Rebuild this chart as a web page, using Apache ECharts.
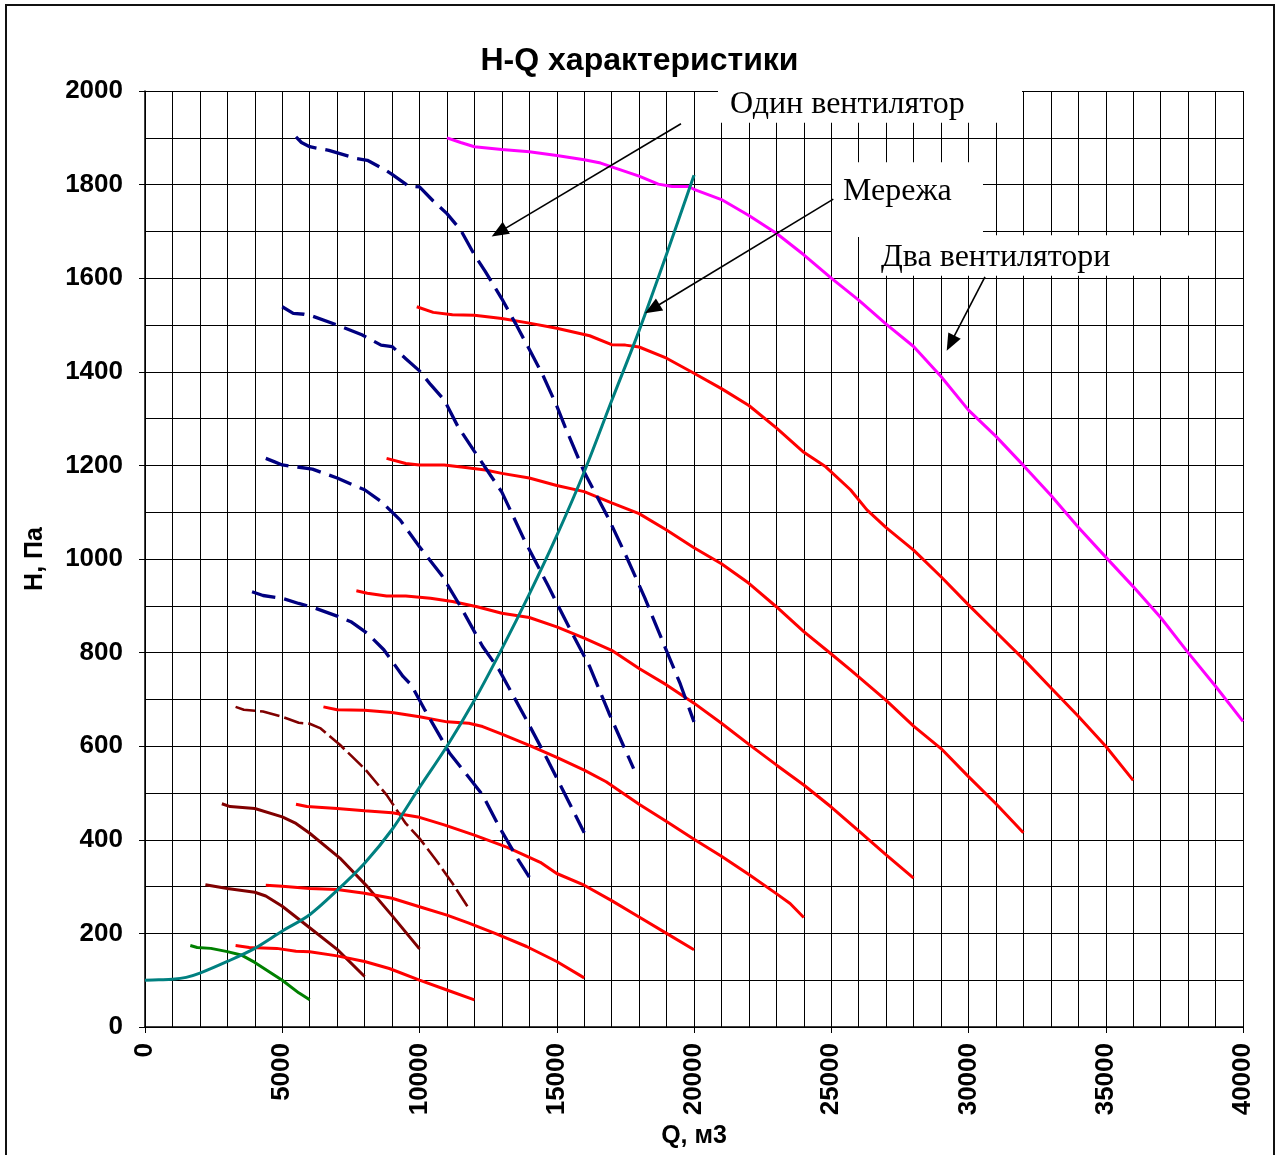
<!DOCTYPE html>
<html>
<head>
<meta charset="utf-8">
<script src="https://cdn.jsdelivr.net/npm/echarts@6/dist/echarts.min.js"></script>
<style>
html,body{margin:0;padding:0;background:#fff;}
#chart{width:1279px;height:1155px;}
</style>
</head>
<body>
<div id="chart"></div>
<script>
// ---- Data (Q, м3 ; H, Па) ----
const network = [[0,100],[500,101],[1000,102],[1500,106],[2000,115],[3000,140],[4000,168],[5000,205],[6000,240],[7000,292],[8000,350],[9000,422],[10000,512],[11000,600],[12000,698],[13000,808],[14000,925],[15000,1050],[16000,1186],[17000,1338],[18000,1488],[19000,1651],[20000,1820]];

const twoFans = [[11000,1900],[11500,1890],[12000,1881],[13000,1875],[14000,1870],[15000,1862],[16000,1853],[16600,1846],[17000,1838],[18000,1818],[18700,1801],[19200,1796],[19800,1796],[20000,1790],[21000,1768],[22000,1734],[23000,1696],[24000,1650],[25000,1600],[26000,1553],[27000,1502],[28000,1454],[29000,1390],[30000,1318],[31000,1262],[32000,1200],[33000,1136],[34000,1068],[35000,1004],[36000,941],[37000,875],[38000,800],[39000,728],[40000,653]];

const oneFanA = [[5500,1902],[5700,1890],[6000,1881],[6700,1873],[7700,1856],[8100,1852],[8700,1833],[9000,1822],[9600,1797],[10000,1795],[10500,1765],[11000,1738],[11500,1703],[12000,1650],[12400,1614],[13000,1556],[13500,1503],[14000,1448],[14500,1392],[15000,1327],[15300,1283],[16000,1186],[16900,1085],[17500,1010],[18200,918],[18900,818],[19500,733],[20000,652]];
const oneFanB = [[5000,1539],[5400,1525],[5800,1523],[6100,1519],[7000,1500],[7900,1479],[8600,1457],[9000,1454],[9500,1428],[10000,1402],[10400,1373],[10900,1340],[11400,1283],[12000,1230],[13000,1143],[13800,1043],[14700,941],[15500,848],[16200,770],[16900,671],[17800,552]];
const oneFanC = [[4400,1215],[4700,1208],[5000,1201],[5500,1197],[6100,1192],[7000,1173],[7700,1155],[8000,1148],[8600,1123],[9300,1083],[10000,1026],[10800,966],[11500,898],[12300,813],[12900,763],[13900,656],[14700,567],[15500,474],[16000,415]];
const oneFanD = [[3900,930],[4300,922],[5000,916],[5600,905],[6100,897],[7000,878],[7500,866],[8100,841],[8700,806],[9400,749],[9700,731],[10200,677],[11100,585],[12300,496],[12900,428],[13600,357],[14000,320]];

const redA = [[9900,1539],[10500,1527],[11200,1522],[12000,1521],[13000,1514],[14000,1504],[15000,1493],[16200,1477],[17000,1458],[17500,1457],[18000,1453],[19000,1429],[20000,1397],[21000,1364],[22000,1328],[23000,1280],[24000,1228],[24800,1197],[25700,1148],[26300,1105],[27000,1067],[28000,1019],[29000,962],[30000,902],[31000,844],[32000,786],[33000,725],[34000,664],[35000,600],[36000,527]];
const redB = [[8800,1215],[9500,1204],[10000,1201],[10900,1201],[11600,1196],[12400,1190],[13000,1183],[14000,1173],[15000,1157],[16000,1144],[17000,1120],[18000,1097],[19000,1062],[20000,1024],[21000,990],[22000,948],[23000,898],[24000,845],[25000,797],[25700,763],[27000,698],[28000,643],[29000,595],[30000,535],[31000,477],[32000,415]];
const redC = [[7700,932],[8100,927],[8800,921],[9500,921],[10400,916],[11200,909],[12100,898],[13000,884],[14000,875],[15000,855],[16000,831],[17000,805],[18000,766],[19000,731],[20000,692],[21000,649],[22000,604],[23000,560],[24000,517],[25000,470],[26000,419],[27000,368],[28000,318]];
const redD = [[6500,684],[7000,678],[8000,677],[9000,672],[10000,663],[11000,652],[11800,649],[12300,642],[13000,626],[14000,602],[15000,576],[16000,549],[16800,524],[18000,476],[19000,439],[20000,401],[21000,365],[22000,326],[23000,285],[23500,264],[24000,234]];
const redE = [[5500,476],[5900,471],[7000,467],[8000,462],[9000,458],[10000,448],[10900,432],[12000,410],[13200,384],[14400,352],[15000,328],[16000,303],[17000,270],[18000,235],[19000,200],[20000,165]];
const redF = [[4400,303],[5000,301],[6000,296],[7000,294],[8000,286],[9000,275],[10000,257],[11000,239],[11800,222],[12800,199],[13900,172],[15000,140],[16000,105]];
const redG = [[3300,174],[3800,170],[4800,168],[5500,162],[6000,161],[7000,152],[8000,140],[8900,125],[10000,100],[11000,79],[12000,58]];

const brownA = [[3300,684],[3600,678],[4300,674],[5000,663],[5600,650],[6000,648],[6400,638],[7100,603],[8000,552],[8800,496],[9500,435],[10000,403],[10600,357],[11200,307],[11800,253]];
const brownB = [[2800,477],[3100,471],[4000,467],[5000,449],[5500,435],[6000,414],[7100,361],[8100,300],[9000,238],[10000,167]];
const brownC = [[2200,304],[3000,296],[4000,288],[4400,280],[5000,258],[6000,212],[7000,166],[8000,108]];

const greenA = [[1650,174],[1900,170],[2400,168],[3000,161],[3500,154],[4000,138],[5000,100],[5600,73],[6000,58]];

// annotation texts and arrows (data coordinates)
const noteTexts = ['Один вентилятор', 'Мережа', 'Два вентилятори'];
const notePos = [[21312,1970],[25428,1786],[26812,1645]];
const noteBoxes = [[[20874,2008],[31949,1932]],[[25027,1848],[30528,1688]],[[26812,1692],[38980,1605]]];
const arrowFrom = [[19526,1930],[25075,1769],[30600,1603]];
const arrowTo = [[12630,1689],[18215,1525],[29206,1445]];

const FONT = "'Liberation Sans', Arial, sans-serif";

function lineSeries(data, color, dash, width, smooth) {
  return {
    type: 'line', data: data, showSymbol: false, symbol: 'none',
    smooth: smooth || false, silent: true, animation: false,
    lineStyle: { color: color, width: width || 3, type: dash || 'solid', cap: 'butt' }
  };
}

const chart = echarts.init(document.getElementById('chart'));
chart.setOption({
  backgroundColor: '#fff',
  animation: false,
  title: {
    text: 'H-Q характеристики', left: 'center', top: 40,
    textStyle: { fontFamily: FONT, fontSize: 32, fontWeight: 'bold', color: '#000' }
  },
  grid: { left: 145, right: 36, top: 91, bottom: 128, containLabel: false, outerBoundsMode: 'none' },
  xAxis: {
    type: 'value', min: 0, max: 40000, interval: 5000,
    name: 'Q, м3', nameLocation: 'middle', nameGap: 88,
    nameTextStyle: { fontFamily: FONT, fontSize: 25, fontWeight: 'bold', color: '#000' },
    axisLine: { show: true, onZero: false, lineStyle: { color: '#000', width: 1.5 } },
    axisTick: { show: true, length: 6, inside: false, lineStyle: { color: '#000', width: 1 } },
    axisLabel: { rotate: 90, margin: 16, fontFamily: FONT, fontSize: 26, fontWeight: 'bold', color: '#000', showMinLabel: true, showMaxLabel: true, hideOverlap: false, formatter: function (v) { return String(v); } },
    splitLine: { show: true, lineStyle: { color: '#000', width: 1 } },
    minorTick: { show: false, splitNumber: 5 },
    minorSplitLine: { show: true, lineStyle: { color: '#000', width: 1 } }
  },
  yAxis: {
    type: 'value', min: 0, max: 2000, interval: 200,
    name: 'H, Па', nameLocation: 'middle', nameGap: 97, nameRotate: 90,
    nameTextStyle: { fontFamily: FONT, fontSize: 25, fontWeight: 'bold', color: '#000' },
    axisLine: { show: true, lineStyle: { color: '#000', width: 1.5 } },
    axisTick: { show: true, length: 6, inside: false, lineStyle: { color: '#000', width: 1 } },
    axisLabel: { margin: 22, fontFamily: FONT, fontSize: 26, fontWeight: 'bold', color: '#000', showMinLabel: true, showMaxLabel: true, formatter: function (v) { return String(v); } },
    splitLine: { show: true, lineStyle: { color: '#000', width: 1 } },
    minorTick: { show: false, splitNumber: 2 },
    minorSplitLine: { show: true, lineStyle: { color: '#000', width: 1 } }
  },
  series: [
    lineSeries(greenA, '#008000'),
    lineSeries(brownC, '#800000'),
    lineSeries(brownB, '#800000'),
    lineSeries(brownA, '#800000', [20, 5], 2.6),
    lineSeries(redG, '#FF0000'),
    lineSeries(redF, '#FF0000'),
    lineSeries(redE, '#FF0000'),
    lineSeries(redD, '#FF0000'),
    lineSeries(redC, '#FF0000'),
    lineSeries(redB, '#FF0000'),
    lineSeries(redA, '#FF0000'),
    lineSeries(oneFanD, '#000080', [24, 9], 3.3),
    lineSeries(oneFanC, '#000080', [24, 9], 3.3),
    lineSeries(oneFanB, '#000080', [24, 9], 3.3),
    lineSeries(oneFanA, '#000080', [24, 9], 3.3),
    lineSeries(twoFans, '#FF00FF'),
    lineSeries(network, '#008080', null, 3, 0.3)
  ]
});

function px(p) { return chart.convertToPixel({ gridIndex: 0 }, p); }

const g = [];
g.push({ type: 'rect', z: 200, shape: { x: 6, y: 5, width: 1268, height: 1200 }, style: { fill: 'none', stroke: '#111', lineWidth: 2 } });
noteBoxes.forEach(function (b) {
  const a = px(b[0]), c = px(b[1]);
  g.push({ type: 'rect', z: 150, shape: { x: a[0], y: a[1], width: c[0] - a[0], height: c[1] - a[1] }, style: { fill: '#fff', stroke: 'none' } });
});
noteTexts.forEach(function (t, i) {
  const p = px(notePos[i]);
  g.push({ type: 'text', z: 160, x: p[0], y: p[1], style: { text: t, fill: '#000', font: "32px 'Liberation Serif', 'Times New Roman', serif", textAlign: 'left', textVerticalAlign: 'middle' } });
});
arrowFrom.forEach(function (f, i) {
  const p0 = px(f), p1 = px(arrowTo[i]);
  const dx = p1[0] - p0[0], dy = p1[1] - p0[1];
  const L = Math.hypot(dx, dy), ux = dx / L, uy = dy / L;
  const hl = 17, hw = 7;
  const bx = p1[0] - ux * hl, by = p1[1] - uy * hl;
  g.push({ type: 'line', z: 170, shape: { x1: p0[0], y1: p0[1], x2: bx + ux * 2, y2: by + uy * 2 }, style: { stroke: '#000', lineWidth: 1.6 } });
  g.push({ type: 'polygon', z: 170, shape: { points: [[p1[0], p1[1]], [bx - uy * hw, by + ux * hw], [bx + uy * hw, by - ux * hw]] }, style: { fill: '#000' } });
});
chart.setOption({ graphic: g });
</script>
</body>
</html>
